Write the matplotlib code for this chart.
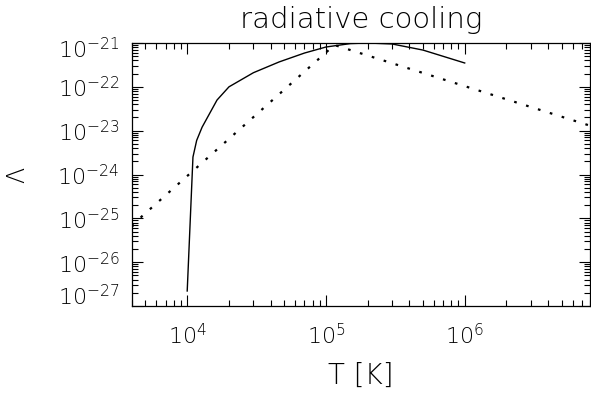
import matplotlib
matplotlib.use('Agg')
import matplotlib.pyplot as plt
import matplotlib.transforms as mtransforms
from matplotlib.ticker import LogLocator, NullFormatter

# corba de refredament (línia contínua)
T_cool = [1.0e4, 1.1e4, 1.17e4, 1.28e4, 1.64e4, 2.0e4, 3.0e4, 4.6e4, 7.0e4, 1.0e5, 1.5e5, 2.0e5, 3.0e5, 5.0e5, 1.0e6]
L_cool = [2.2e-27, 2.5e-24, 6.0e-24, 1.2e-23, 5.0e-23, 1.0e-22, 2.1e-22, 3.7e-22, 5.9e-22, 8.1e-22, 9.7e-22, 1.0e-21, 9.5e-22, 6.9e-22, 3.5e-22]

# aproximació (línia de punts)
T_fit = [4.0e3, 4.7e3, 1.15e5, 8.0e6]
L_fit = [6.5e-26, 1.1e-25, 9.0e-22, 1.3e-23]

plt.rcParams['font.family'] = 'DejaVu Sans'
plt.rcParams['font.weight'] = 'light'
plt.rcParams['mathtext.fontset'] = 'custom'
plt.rcParams['mathtext.rm'] = 'DejaVu Sans:light'
plt.rcParams['mathtext.it'] = 'DejaVu Sans:light'
plt.rcParams['mathtext.sf'] = 'DejaVu Sans:light'

fig = plt.figure(figsize=(5.91, 4.0), dpi=100)
ax = fig.add_axes([132/591, 94/400, 458/591, 263/400])

ax.plot(T_cool, L_cool, color='black', lw=1.0)
ax.plot(T_fit, L_fit, color='black', lw=1.6, linestyle=(0, (1.2, 4.4)))

ax.set_xscale('log')
ax.set_yscale('log')
ax.set_xlim(4.0e3, 8.0e6)
ax.set_ylim(1e-27, 1e-21)

for axis in (ax.xaxis, ax.yaxis):
    axis.set_major_locator(LogLocator(base=10, numticks=20))
    axis.set_minor_locator(LogLocator(base=10, subs=range(2, 10), numticks=100))
    axis.set_minor_formatter(NullFormatter())

ax.tick_params(which='both', direction='in', top=True, right=True, labelsize=16, color='black')
ax.tick_params(which='major', length=8, width=0.8)
ax.tick_params(which='minor', length=4, width=0.8)
ax.tick_params(axis='x', pad=12)
ax.tick_params(axis='y', pad=9)
for s in ax.spines.values():
    s.set_linewidth(0.9)

ax.set_title('radiative cooling', fontsize=21, pad=11, fontweight='light')
ax.set_xlabel('T [K]', fontsize=20, labelpad=10, fontweight='light')
ax.set_ylabel('Λ', fontsize=17, labelpad=20, fontweight='light')

# les etiquetes extremes de l'eix y queden dins del rang, com a IDL
fig.canvas.draw()
for tick in ax.yaxis.get_major_ticks():
    loc = tick.get_loc()
    if abs(loc / 1e-21 - 1) < 1e-3:
        dy = -5
    elif abs(loc / 1e-27 - 1) < 1e-3:
        dy = 11
    else:
        continue
    off = mtransforms.ScaledTranslation(0, dy / 100, fig.dpi_scale_trans)
    tick.label1.set_transform(tick.label1.get_transform() + off)

plt.savefig('out.png', dpi=100)
plt.close()
